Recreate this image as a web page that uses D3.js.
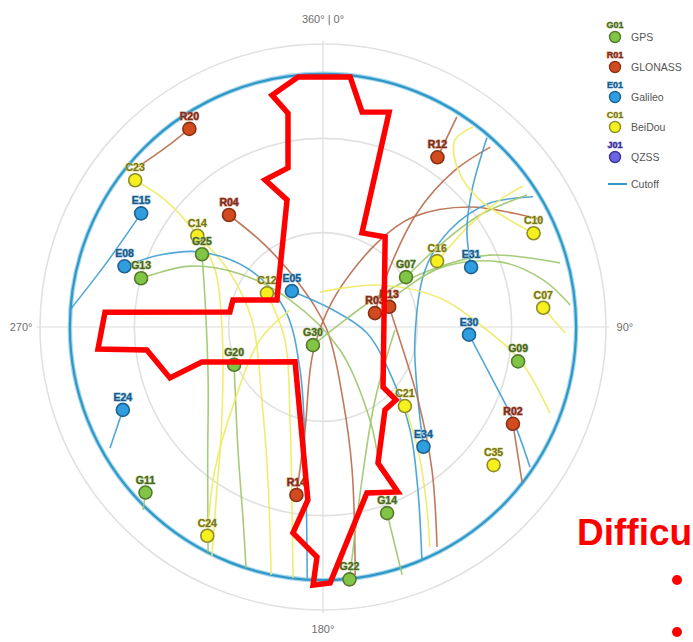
<!DOCTYPE html>
<html><head><meta charset="utf-8">
<script src="https://cdn.jsdelivr.net/npm/d3@7"></script>
<style>
body{margin:0;background:#fff;overflow:hidden}
svg{display:block;font-family:"Liberation Sans",Arial,sans-serif}
</style>
</head><body>
<svg id="chart" width="693" height="642"></svg>
<script>
// ---------------- data ----------------
const systemCodes = ["G", "R", "E", "C", "J"];
const systemNames = ["GPS", "GLONASS", "Galileo", "BeiDou", "QZSS"];
const legendIds = ["G01", "R01", "E01", "C01", "J01"];
const ringElevations = [0, 30, 60];
const cutoffElevation = 9.5;
const azimuthTicks = [0, 90, 180, 270];
const azimuthLabels = ["360° | 0°", "90°", "180°", "270°"];

// [id, azimuth°, elevation°]
const satellites = [
  ["R20",326,14],["C23",308,14.2],["E15",302,21.8],["C14",306,40.6],["R04",320,43.5],
  ["G25",301,45.1],["E08",287,24],["G13",285,30.1],["C12",301,69.2],["E05",319,74.9],
  ["G30",209,83.4],["G20",247,59.3],["E24",247.5,21.1],["G11",227,12.8],["C24",209,14.1],
  ["R14",189,35.9],["G22",174,9.3],["G14",161,27.4],["E34",140,40.3],["C21",134,53.8],
  ["C35",129,20.2],["R02",117,22.2],["G09",100,27],["E30",93,43.5],["C07",85,19.7],
  ["R03",75,72.9],["R13",73,68],["G07",59,59.2],["C16",60,48.1],["E31",68,39.2],
  ["C10",66,16.7],["R12",34,24.9]
];

// tracks: [id, [[az, el], ...]]
const tracks = [
  ["R20", [[326,14],[318.6,14.1],[310.9,12.2]]],
  ["C23", [[308,14.2],[308.8,25.5],[306,40.6],[297.8,51.2],[268.3,57.9],[227.4,46.3],[211.7,25.3],[205.9,9.1]]],
  ["E15", [[302,21.8],[285.9,17.9],[273.8,9.3]]],
  ["C14", [[306,40.6],[301,54.8],[275.6,67.3],[219.9,59.7],[199.8,38.3],[191.8,9.4]]],
  ["R04", [[320,43.5],[324.7,58.1],[331.3,74.8],[126.9,88.4],[164.7,65.9],[168.5,43.6],[172.6,10.5]]],
  ["G25", [[301,45.1],[283,51.5],[245,49.7],[221,34.1],[207,9.5]]],
  ["E08", [[287,24],[293.8,33.3],[301.4,44.2],[308,60.5],[294.1,76.8],[208.1,74.5],[188.3,50.5],[183.6,10]]],
  ["G13", [[285,30.1],[294.6,43.5],[302.6,58.7],[309.3,76.4],[143.5,80.9],[153.2,56.9],[158.3,41]]],
  ["C12", [[301,69.2],[251.1,77.2],[199.5,58.6],[190.2,34.1],[186.8,9.6]]],
  ["E05", [[319,74.9],[30.5,83.7],[97.8,75.9],[127.1,62.1],[139.8,47.1],[149.8,30],[157,9.5]]],
  ["G30", [[209,83.4],[72.4,82.7],[60.7,69.2],[62,51.5],[66.7,32.2],[74.9,11.9]]],
  ["G20", [[247,59.3],[214.6,42.4],[202.5,23.6],[197.7,9.5]]],
  ["E24", [[247.5,21.1],[240.4,12.1]]],
  ["G11", [[227,12.8],[224.5,8.4]]],
  ["C24", [[209,14.1],[217.1,33],[230.3,53.6],[258.3,69.5],[297.3,78.2]]],
  ["R14", [[189,35.9],[189.9,56.7],[201,81.1],[20.3,80.8],[32.7,58.2],[39.3,44.8],[50.8,29.6],[64.1,12.2]]],
  ["G22", [[174,9.3],[165.7,39.8],[144.5,61.5],[92.4,67.1]]],
  ["G14", [[161,27.4],[162.3,7.3]]],
  ["E34", [[140,40.3],[127.5,51.9],[98,60.5],[60.8,52.8],[52.6,39.2],[53.4,23.9],[58.2,11.4]]],
  ["C21", [[134,53.8],[142.3,40.6],[149.2,26],[154.1,12.2]]],
  ["R02", [[117,22.2],[127.9,9.8]]],
  ["E30", [[93,43.5],[106,34.7],[116.1,22.7],[124.1,10.5]]],
  ["C07", [[85,19.7],[91.4,13]]],
  ["R03", [[75,72.9],[52.8,65.3],[39.5,43],[40.1,24.8],[42.9,11.9]]],
  ["R13", [[73,68],[99.6,65.2],[127.5,51.9],[142.7,32.8],[152.6,11.2]]],
  ["G07", [[59,59.2],[55,44.6],[54.5,28.7],[57.1,12.7]]],
  ["C16", [[60,48.1],[55.2,33.1],[54.3,20.7],[54.8,12.2]]],
  ["E31", [[68,39.2],[56,34.8],[47.4,25.6],[40.9,10.4]]],
  ["C10", [[66,16.7],[51,25.8],[40.7,24.1],[35.2,17.2],[36.9,10.5]]],
  ["R12", [[34,24.9],[32.5,10.8]]],
  ["C11", [[355.1,78.8],[53.6,67.5],[76.1,51.7],[90,39.1],[99.5,26.5],[110.8,12.8]]],
  ["G05", [[68.1,67],[63.2,48.3],[69.8,30],[77.9,18.4],[84.9,11.1]]]
];

// red hand-drawn highlight region, [az, el]
const highlightRegion = [
  [354.3,10.1],[6.2,10],[10.3,20.5],[17.1,18.5],[22.5,57.6],[34.6,55.2],[135,63],[135,57.2],
  [143.2,57.1],[158,43.3],[155.6,32.4],[165.2,35.4],[178.4,8.6],[182.2,7.9],[181.5,16.8],
  [188.3,23.8],[185,34.8],[218.7,75.8],[253.9,49.9],[251.6,38.7],[262.6,33.5],[264.4,18.1],
  [273.9,20.5],[279.2,60],[286.7,60.1],[300.4,73],[344.2,48],[338.5,39.7],[347.6,38.2],
  [350.7,21.1],[347.6,14.5]
];
const sideHeading = "Difficu";
const sideBullets = 2;

// ---------------- styles ----------------
const dotFill   = {G:"#80c545", R:"#d24b1e", E:"#2e9ee0", C:"#f6f11e", J:"#6c62e4"};
const dotStroke = {G:"#56792c", R:"#8a3115", E:"#1f6291", C:"#8f8d27", J:"#3a3590"};
const labFill   = {G:"#4d6326", R:"#7a2d1c", E:"#1e5884", C:"#74722a", J:"#372d8c"};
const labHalo   = {G:"#adc983", R:"#cc846c", E:"#84bde0", C:"#dcda73", J:"#9892e2"};
const trackCol  = {G:"#9dc56d", R:"#b86b4b", E:"#3e9fd1", C:"#eeea62", J:"#8f88e0"};
const cutoffCol = "#2c99c9";

// ---------------- drawing ----------------
const svg = d3.select("#chart");
const cx = 323, cy = 327, R0 = 283;
const rScale = d3.scaleLinear().domain([90, 0]).range([0, R0]);
const proj = (az, el) => {
  const r = rScale(el), a = az * Math.PI / 180;
  return [cx + r * Math.sin(a), cy - r * Math.cos(a)];
};
const sys = id => id[0];

// grid rings
svg.append("g").selectAll("circle").data(ringElevations).join("circle")
  .attr("cx", cx).attr("cy", cy).attr("r", d => rScale(d))
  .attr("fill", "none").attr("stroke", "#e1e1e1").attr("stroke-width", 1.6);

// azimuth cross lines
svg.append("g").selectAll("line").data(azimuthTicks).join("line")
  .attr("x1", cx).attr("y1", cy)
  .attr("x2", d => proj(d, -1)[0]).attr("y2", d => proj(d, -1)[1])
  .attr("stroke", "#dedede").attr("stroke-width", 1.2);

// azimuth labels
svg.append("g").selectAll("text").data(azimuthTicks).join("text")
  .attr("x", d => proj(d, -6)[0])
  .attr("y", (d, i) => proj(d, i === 0 ? -8 : -6)[1])
  .attr("text-anchor", "middle").attr("dominant-baseline", "central")
  .attr("font-size", 11).attr("fill", "#6e6e6e")
  .text((d, i) => azimuthLabels[i]);

// cutoff circle
svg.append("circle").attr("cx", cx).attr("cy", cy).attr("r", rScale(cutoffElevation))
  .attr("fill", "none").attr("stroke", "#a9d6ea").attr("stroke-width", 4.5);
svg.append("circle").attr("cx", cx).attr("cy", cy).attr("r", rScale(cutoffElevation))
  .attr("fill", "none").attr("stroke", cutoffCol).attr("stroke-width", 2.2);

// tracks
const line = d3.line().curve(d3.curveCatmullRom.alpha(0.5));
svg.append("g").selectAll("path").data(tracks).join("path")
  .attr("d", d => line(d[1].map(p => proj(p[0], p[1]))))
  .attr("fill", "none").attr("stroke", d => trackCol[sys(d[0])])
  .attr("stroke-width", 1.6).attr("opacity", 0.9);

// satellites
const sg = svg.append("g");
sg.selectAll("circle").data(satellites).join("circle")
  .attr("cx", d => proj(d[1], d[2])[0]).attr("cy", d => proj(d[1], d[2])[1])
  .attr("r", 6.5).attr("fill", d => dotFill[sys(d[0])])
  .attr("stroke", d => dotStroke[sys(d[0])]).attr("stroke-width", 1.6);
sg.selectAll("text").data(satellites).join("text")
  .attr("x", d => proj(d[1], d[2])[0]).attr("y", d => proj(d[1], d[2])[1] - 9)
  .attr("text-anchor", "middle").attr("font-size", 10.5).attr("font-weight", "bold")
  .attr("fill", d => labFill[sys(d[0])])
  .attr("stroke", d => labHalo[sys(d[0])]).attr("stroke-width", 1.2)
  .attr("paint-order", "stroke")
  .text(d => d[0]);

// legend
const lg = svg.append("g");
const ly = d3.scaleLinear().domain([0, 1]).range([37, 67]);
systemCodes.forEach((c, i) => {
  lg.append("text").attr("x", 615).attr("y", ly(i) - 9).attr("text-anchor", "middle")
    .attr("font-size", 9).attr("font-weight", "bold").attr("fill", labFill[c])
    .attr("stroke", labHalo[c]).attr("stroke-width", 1).attr("paint-order", "stroke")
    .text(legendIds[i]);
  lg.append("circle").attr("cx", 615).attr("cy", ly(i)).attr("r", 5.5)
    .attr("fill", dotFill[c]).attr("stroke", dotStroke[c]).attr("stroke-width", 1.4);
  lg.append("text").attr("x", 631).attr("y", ly(i) + 3.5).attr("font-size", 10.5)
    .attr("fill", "#555").text(systemNames[i]);
});
lg.append("line").attr("x1", 608).attr("x2", 627).attr("y1", 184).attr("y2", 184)
  .attr("stroke", cutoffCol).attr("stroke-width", 2);
lg.append("text").attr("x", 631).attr("y", 187.5).attr("font-size", 10.5)
  .attr("fill", "#555").text("Cutoff");

// red highlight annotation
svg.append("path")
  .attr("d", d3.line().curve(d3.curveLinearClosed)(highlightRegion.map(p => proj(p[0], p[1]))))
  .attr("fill", "none").attr("stroke", "#ff0000").attr("stroke-width", 5.5)
  .attr("stroke-linejoin", "miter");

// side text (slide fragment)
svg.append("text").attr("x", 577).attr("y", 545).attr("font-size", 37)
  .attr("font-weight", "bold").attr("fill", "#ff0000").text(sideHeading);
svg.append("g").selectAll("circle").data(d3.range(sideBullets)).join("circle")
  .attr("cx", 677).attr("cy", d => 580 + d * 52).attr("r", 5).attr("fill", "#ff0000");
</script>
</body></html>
